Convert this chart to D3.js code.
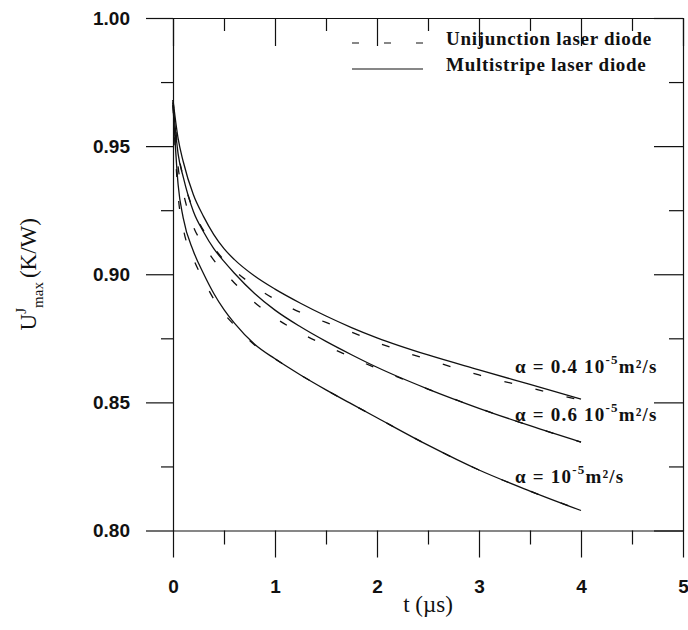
<!DOCTYPE html>
<html>
<head>
<meta charset="utf-8">
<script src="https://cdn.jsdelivr.net/npm/d3@7"></script>
<style>
  body { margin: 0; background: #fff; }
  svg { display: block; }
  .axis path, .axis line { stroke: #111; stroke-width: 1.2; }
  .axis text { font-family: "Liberation Sans", Arial, sans-serif; font-weight: bold; font-size: 19px; fill: #111; }
  .serif { font-family: "Liberation Serif", "Times New Roman", serif; fill: #111; }
</style>
</head>
<body>
<div id="chart"></div>
<script>
const width = 688;
const height = 630;
const margin = { top: 18, right: 4, bottom: 99, left: 173 };

// time axis (µs)
const times = [0, 0.05, 0.1, 0.2, 0.3, 0.4, 0.5, 0.6, 0.8, 1, 1.25, 1.5, 1.75, 2, 2.5, 3, 3.5, 4];

// multistripe laser diode (solid)
const multi04 = [0.968, 0.953, 0.944, 0.931, 0.9225, 0.9155, 0.9100, 0.9058, 0.8993, 0.8942, 0.8887, 0.8837, 0.8792, 0.8752, 0.8685, 0.8627, 0.8570, 0.8513];
const multi06 = [0.967, 0.947, 0.938, 0.9245, 0.9165, 0.9100, 0.9050, 0.9005, 0.8925, 0.8860, 0.8795, 0.8738, 0.8686, 0.8637, 0.8552, 0.8477, 0.8409, 0.8345];
const multi10 = [0.966, 0.935, 0.922, 0.909, 0.9002, 0.8925, 0.8862, 0.8810, 0.8727, 0.8670, 0.8607, 0.8549, 0.8494, 0.8440, 0.8333, 0.8236, 0.8154, 0.8078];

// unijunction laser diode (dashed)
const uni04 = [0.968, 0.948, 0.938, 0.925, 0.917, 0.9105, 0.9055, 0.9016, 0.8953, 0.8902, 0.8851, 0.8812, 0.8774, 0.8734, 0.8667, 0.8607, 0.8557, 0.8508];
const uni06 = [0.967, 0.942, 0.932, 0.9185, 0.9115, 0.9055, 0.9010, 0.8967, 0.8890, 0.8830, 0.8771, 0.8722, 0.8676, 0.8632, 0.8552, 0.8477, 0.8409, 0.8345];
const uni10 = [0.966, 0.931, 0.918, 0.906, 0.8977, 0.8903, 0.8847, 0.8802, 0.8724, 0.8670, 0.8607, 0.8549, 0.8494, 0.8440, 0.8333, 0.8236, 0.8154, 0.8078];

// ticks
const xMajor = [0, 1, 2, 3, 4, 5];
const xMinor = [0.5, 1.5, 2.5, 3.5, 4.5];
const yMajor = [0.80, 0.85, 0.90, 0.95, 1.00];
const yMinor = [0.825, 0.875, 0.925, 0.975];

// legend and curve labels
const legendNames = ["Unijunction laser diode", "Multistripe laser diode"];
const alphaLabels = [
  { pre: "\u03b1 = 0.4 10", sup: "-5", post: "m\u00b2/s" },
  { pre: "\u03b1 = 0.6 10", sup: "-5", post: "m\u00b2/s" },
  { pre: "\u03b1 = 10", sup: "-5", post: "m\u00b2/s" },
];

const svg = d3.select("#chart")
  .append("svg")
  .attr("width", width)
  .attr("height", height);

const x = d3.scaleLinear().domain([0, 5]).range([margin.left, width - margin.right - 1]);
const y = d3.scaleLinear().domain([0.8, 1.0]).range([height - margin.bottom - 0.5, margin.top]);

const fmt = d3.format(".2f");

// bottom axis: ticks outward
svg.append("g").attr("class", "axis")
  .attr("transform", `translate(0,${y(0.8)})`)
  .call(d3.axisBottom(x).tickValues(xMajor).tickSizeInner(27).tickSizeOuter(0).tickPadding(22).tickFormat(d3.format("d")));
svg.append("g").attr("class", "axis")
  .attr("transform", `translate(0,${y(0.8)})`)
  .call(d3.axisBottom(x).tickValues(xMinor).tickSize(14).tickFormat(""))
  .call(g => g.select(".domain").remove());

// top axis: ticks inward
svg.append("g").attr("class", "axis")
  .attr("transform", `translate(0,${y(1.0)})`)
  .call(d3.axisTop(x).tickValues(xMajor).tickSizeInner(-28).tickSizeOuter(0).tickFormat(""));
svg.append("g").attr("class", "axis")
  .attr("transform", `translate(0,${y(1.0)})`)
  .call(d3.axisTop(x).tickValues(xMinor).tickSize(-13).tickFormat(""))
  .call(g => g.select(".domain").remove());

// left axis: ticks outward
svg.append("g").attr("class", "axis")
  .attr("transform", `translate(${x(0)},0)`)
  .call(d3.axisLeft(y).tickValues(yMajor).tickSizeInner(27).tickSizeOuter(0).tickPadding(16).tickFormat(fmt));
svg.append("g").attr("class", "axis")
  .attr("transform", `translate(${x(0)},0)`)
  .call(d3.axisLeft(y).tickValues(yMinor).tickSize(12).tickFormat(""))
  .call(g => g.select(".domain").remove());

// right axis: ticks inward
svg.append("g").attr("class", "axis")
  .attr("transform", `translate(${x(5)},0)`)
  .call(d3.axisRight(y).tickValues(yMajor).tickSizeInner(-29).tickSizeOuter(0).tickFormat(""));
svg.append("g").attr("class", "axis")
  .attr("transform", `translate(${x(5)},0)`)
  .call(d3.axisRight(y).tickValues(yMinor).tickSize(-14).tickFormat(""))
  .call(g => g.select(".domain").remove());

// curves
const line = d3.line()
  .x((d, i) => x(times[i]))
  .y(d => y(d))
  .curve(d3.curveMonotoneX);

const series = [
  { values: uni04, dash: "8,24" },
  { values: uni06, dash: "8,24" },
  { values: uni10, dash: "8,24" },
  { values: multi04, dash: null },
  { values: multi06, dash: null },
  { values: multi10, dash: null },
];

svg.append("g")
  .selectAll("path")
  .data(series)
  .enter()
  .append("path")
  .attr("d", d => line(d.values))
  .attr("fill", "none")
  .attr("stroke", "#111")
  .attr("stroke-width", 1.3)
  .attr("stroke-dasharray", d => d.dash);

// legend
const legend = svg.append("g");
legendNames.forEach((name, i) => {
  const ly = 43 + i * 26;
  legend.append("line")
    .attr("x1", 352).attr("x2", 423)
    .attr("y1", ly).attr("y2", ly)
    .attr("stroke", "#111")
    .attr("stroke-width", 1.2)
    .attr("stroke-dasharray", i === 0 ? "7,25" : null);
  legend.append("text")
    .attr("class", "serif")
    .attr("x", 446)
    .attr("y", ly + 1.5)
    .attr("font-size", 19)
    .attr("font-weight", "bold")
    .attr("letter-spacing", 0.7)
    .text(name);
});

// alpha labels
const labelY = [373, 421, 483];
alphaLabels.forEach((lab, i) => {
  const t = svg.append("text")
    .attr("class", "serif")
    .attr("x", 515)
    .attr("y", labelY[i])
    .attr("font-size", 19)
    .attr("font-weight", "bold")
    .attr("letter-spacing", 1.2);
  t.append("tspan").text(lab.pre);
  t.append("tspan").attr("dy", -9).attr("font-size", 13).text(lab.sup);
  t.append("tspan").attr("dy", 9).text(lab.post);
});

// x axis title
svg.append("text")
  .attr("class", "serif")
  .attr("x", (x(0) + x(5)) / 2)
  .attr("y", 612)
  .attr("text-anchor", "middle")
  .attr("font-size", 23)
  .text("t (\u00b5s)");

// y axis title
const yt = svg.append("text")
  .attr("class", "serif")
  .attr("transform", `translate(36,${(y(0.8) + y(1.0)) / 2}) rotate(-90)`)
  .attr("text-anchor", "middle")
  .attr("font-size", 23);
yt.append("tspan").text("U");
yt.append("tspan").attr("dy", -10).attr("font-size", 15).text("J");
yt.append("tspan").attr("dy", 17).attr("font-size", 15).text("max");
yt.append("tspan").attr("dy", -7).attr("dx", 4).text("(K/W)");
</script>
</body>
</html>
